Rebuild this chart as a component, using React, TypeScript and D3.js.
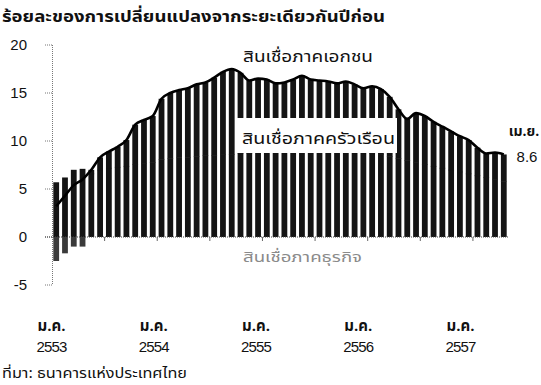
import React from "react";
import * as d3 from "d3";

// Months Jan 2010 (ม.ค. 2553) .. Apr 2014 (เม.ย. 2557)
const privateCredit = [
  3.2, 4.3, 5.4, 6.0, 7.0, 8.3, 8.9, 9.4, 10.1, 11.7, 12.2, 12.6,
  14.4, 15.0, 15.3, 15.5, 15.9, 16.1, 16.6, 17.2, 17.5, 17.1, 16.3, 16.5,
  16.4, 16.0, 16.1, 16.4, 16.8, 16.4, 16.3, 16.2, 16.0, 16.2, 15.9, 15.5,
  15.7, 15.4, 14.6, 13.3, 12.3, 12.9, 12.6, 12.0, 11.5, 11.0, 10.5, 10.1,
  9.3, 8.7, 8.8, 8.6,
];
const householdContribution = [
  5.7, 6.2, 7.0, 7.1, 6.6, 7.0, 7.2, 7.3, 7.4, 7.6, 7.7, 7.8,
  8.1, 8.2, 8.3, 8.3, 8.4, 8.5, 8.5, 8.6, 8.6, 8.7, 8.7, 8.8,
  8.8, 8.9, 8.9, 9.0, 9.0, 9.1, 9.1, 9.1, 9.0, 9.0, 8.9, 8.8,
  8.7, 8.6, 8.4, 8.2, 8.0, 7.8, 7.6, 7.4, 7.2, 7.0, 6.8, 6.6,
  6.4, 6.2, 6.0, 5.8,
];
const businessContribution = [
  -2.5, -1.7, -1.0, -1.0, 0.4, 1.3, 1.7, 2.1, 2.7, 4.1, 4.5, 4.8,
  6.3, 6.8, 7.0, 7.2, 7.5, 7.6, 8.1, 8.6, 8.9, 8.4, 7.6, 7.7,
  7.6, 7.1, 7.2, 7.4, 7.8, 7.3, 7.2, 7.1, 7.0, 7.2, 7.0, 6.7,
  7.0, 6.8, 6.2, 5.1, 4.3, 5.1, 5.0, 4.6, 4.3, 4.0, 3.7, 3.5,
  2.9, 2.5, 2.8, 2.8,
];
const yTicks = [20, 15, 10, 5, 0, -5];
const monthLabels = ["ม.ค.", "ม.ค.", "ม.ค.", "ม.ค.", "ม.ค."];
const yearLabels = ["2553", "2554", "2555", "2556", "2557"];

const TITLE = "ร้อยละของการเปลี่ยนแปลงจากระยะเดียวกันปีก่อน";
const SOURCE = "ที่มา: ธนาคารแห่งประเทศไทย";
const FONT = "'Noto Sans Thai', 'Noto Sans', 'DejaVu Sans', sans-serif";
const NUMFONT = "'Liberation Sans', Arial, sans-serif";

export default function App() {
  const W = 541, H = 385;
  const months = privateCredit.map((_, i) => i);
  const x = d3.scaleBand<number>().domain(months).range([52, 508]).paddingInner(0.34).paddingOuter(0.15);
  const y = d3.scaleLinear().domain([-5, 20]).range([285, 45]);
  const xLabel = d3.scaleLinear().domain([0, yearLabels.length - 1]).range([51.5, 460.5]);
  const cx = (i: number) => (x(i) as number) + x.bandwidth() / 2;
  const line = d3.line<number>().x((_, i) => cx(i)).y((d) => y(d)).curve(d3.curveMonotoneX);
  const halfTicks = d3.range(6, months.length + 1, 6);
  const tickX = (m: number) => 52 + (508 - 52) * (m / months.length);
  const BAR = "#141414";

  return (
    <svg width={W} height={H} style={{ position: "absolute", left: 0, top: 0, background: "#fff" }} fontFamily={FONT}>
      <text x={2} y={22} fontSize={16} fontWeight="bold" fill="#111" textLength={383} lengthAdjust="spacingAndGlyphs">{TITLE}</text>
      {/* y axis */}
      <line x1={52.5} x2={52.5} y1={y(20)} y2={y(-5)} stroke="#777" strokeDasharray="1,1" />
      {yTicks.map((t) => (
        <g key={t}>
          <line x1={45} x2={52.5} y1={y(t)} y2={y(t)} stroke="#777" strokeDasharray="1,1" />
          <text x={27} y={y(t) + 5} fontSize={15} textAnchor="end" fill="#111" fontFamily={NUMFONT}>{t}</text>
        </g>
      ))}
      {/* bars: household + business contributions */}
      {months.map((i) => {
        const h = householdContribution[i];
        const b = businessContribution[i];
        const bx = x(i) as number;
        const bw = x.bandwidth();
        return (
          <g key={i}>
            <rect x={bx} y={y(h)} width={bw} height={y(0) - y(h)} fill={BAR} />
            {b >= 0 ? (
              <rect x={bx} y={y(h + b)} width={bw} height={y(h) - y(h + b) + 0.5} fill={BAR} />
            ) : (
              <rect x={bx} y={y(0)} width={bw} height={y(b) - y(0)} fill="#3a3a3a" />
            )}
          </g>
        );
      })}
      {/* zero line */}
      <line x1={45} x2={508} y1={y(0)} y2={y(0)} stroke="#444" strokeDasharray="1,1" />
      {halfTicks.map((m) => (
        <line key={m} x1={tickX(m)} x2={tickX(m)} y1={y(0)} y2={y(0) + 4} stroke="#666" />
      ))}
      {/* private credit line */}
      <path d={line(privateCredit) || ""} fill="none" stroke="#000" strokeWidth={2.6} strokeLinejoin="round" />
      {/* labels */}
      <rect x={237} y={118} width={160} height={35} fill="#fff" />
      <text x={242} y={144} fontSize={15.5} fill="#111" textLength={153} lengthAdjust="spacingAndGlyphs">สินเชื่อภาคครัวเรือน</text>
      <text x={243} y={62} fontSize={15.5} fill="#111" textLength={130} lengthAdjust="spacingAndGlyphs">สินเชื่อภาคเอกชน</text>
      <text x={243} y={262} fontSize={14} fill="#8a8a8a" textLength={119} lengthAdjust="spacingAndGlyphs">สินเชื่อภาคธุรกิจ</text>
      <text x={524} y={136} fontSize={14} fontWeight="bold" textAnchor="middle" fill="#111">เม.ย.</text>
      <text x={527} y={162} fontSize={15} textAnchor="middle" fill="#111" fontFamily={NUMFONT}>{privateCredit[privateCredit.length - 1]}</text>
      {/* x labels */}
      {yearLabels.map((yl, i) => (
        <g key={yl}>
          <text x={xLabel(i)} y={331} fontSize={15} fontWeight="bold" textAnchor="middle" fill="#111">{monthLabels[i]}</text>
          <text x={xLabel(i)} y={352} fontSize={15} textAnchor="middle" fill="#111" fontFamily={NUMFONT} letterSpacing={-0.8}>{yl}</text>
        </g>
      ))}
      <text x={2} y={378} fontSize={13.5} fill="#111" textLength={185} lengthAdjust="spacingAndGlyphs">{SOURCE}</text>
    </svg>
  );
}
